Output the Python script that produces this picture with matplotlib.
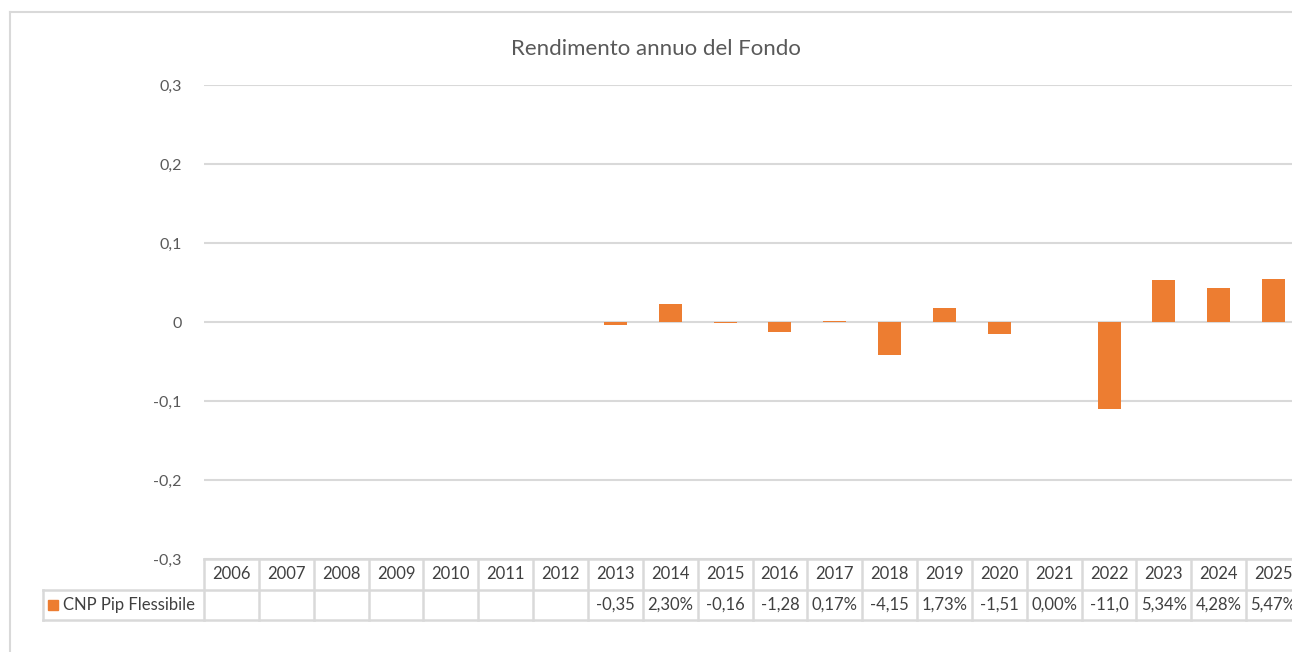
import matplotlib.pyplot as plt
from matplotlib.lines import Line2D
from matplotlib.patches import Rectangle
import numpy as np

plt.rcParams['font.family'] = ['Lato', 'DejaVu Sans']

anni = [str(a) for a in range(2006, 2026)]
rendimenti = [None, None, None, None, None, None, None,
              -0.0035, 0.0230, -0.0016, -0.0128, 0.0017, -0.0415, 0.0173,
              -0.0151, 0.0000, -0.1100, 0.0534, 0.0428, 0.0547]
etichette = ['', '', '', '', '', '', '',
             '-0,35', '2,30%', '-0,16', '-1,28', '0,17%', '-4,15', '1,73%',
             '-1,51', '0,00%', '-11,0', '5,34%', '4,28%', '5,47%']
serie = 'CNP Pip Flessibile'
titolo = 'Rendimento annuo del Fondo'
yticks = [-0.3, -0.2, -0.1, 0, 0.1, 0.2, 0.3]

W, H = 1292, 652
arancio = '#ED7D31'
griglia = '#D9D9D9'
testo = '#595959'

fig = plt.figure(figsize=(W / 100, H / 100), dpi=100)


def fx(px):
    return px / W


def fy(py):
    return 1 - py / H


x_left, x_right = 204, 1301
y_top, y_zero_bot = 85, 559
ax = fig.add_axes([fx(x_left), fy(y_zero_bot), fx(x_right - x_left), (y_zero_bot - y_top) / H])
x = np.arange(len(anni))
vals = np.array([np.nan if v is None else v for v in rendimenti])
ax.bar(x, vals, width=0.42, color=arancio, zorder=3)
ax.set_xlim(-0.5, len(anni) - 0.5)
ax.set_ylim(-0.3, 0.3)
ax.set_yticks(yticks)
ax.set_yticklabels(['0' if t == 0 else ('%.1f' % t).replace('.', ',') for t in yticks],
                   color=testo, fontsize=11.5)
ax.tick_params(axis='y', length=0, pad=16)
ax.set_xticks([])
ax.grid(axis='y', color=griglia, linewidth=1.5, zorder=0)
for s in ax.spines.values():
    s.set_visible(False)

# tabella dati sotto il grafico
col = (x_right - x_left) / len(anni)
tx0 = 43
tab = fig.add_axes([fx(tx0), fy(620), fx(x_right - tx0), 61 / H])
tab.set_xlim(-0.5 - (x_left - tx0) / col, len(anni) - 0.5)
tab.set_ylim(0, 2)
tab.axis('off')
lc = '#D9D9D9'
lw = 1.8
left_edge = -0.5 - (x_left - tx0) / col
tab.plot([-0.5, len(anni) - 0.5], [2, 2], color=lc, lw=lw, clip_on=False)
tab.plot([left_edge, len(anni) - 0.5], [1, 1], color=lc, lw=lw, clip_on=False)
tab.plot([left_edge, len(anni) - 0.5], [0, 0], color=lc, lw=lw, clip_on=False)
tab.plot([left_edge, left_edge], [0, 1], color=lc, lw=lw, clip_on=False)
for i in range(len(anni) + 1):
    tab.plot([i - 0.5, i - 0.5], [0, 2], color=lc, lw=lw, clip_on=False)
for i, a in enumerate(anni):
    tab.text(i, 1.5, a, ha='center', va='center', fontsize=12, color='#404040')
    tab.text(i, 0.5, etichette[i], ha='center', va='center', fontsize=12, color='#404040')
tab.add_patch(Rectangle((left_edge + 5 / col, 0.5 - 0.17), 10 / col, 0.34, color=arancio, clip_on=False))
tab.text(left_edge + 20 / col, 0.5, serie, ha='left', va='center', fontsize=12, color='#404040')

fig.text(fx(656), fy(49), titolo, ha='center', va='center', fontsize=16, color=testo)

# cornice del grafico
fig.add_artist(Line2D([fx(10), 1], [fy(12), fy(12)], color=griglia, lw=1.5))
fig.add_artist(Line2D([fx(10), fx(10)], [fy(12), 0], color=griglia, lw=1.5))

fig.savefig('out.png', dpi=100, facecolor='white')
